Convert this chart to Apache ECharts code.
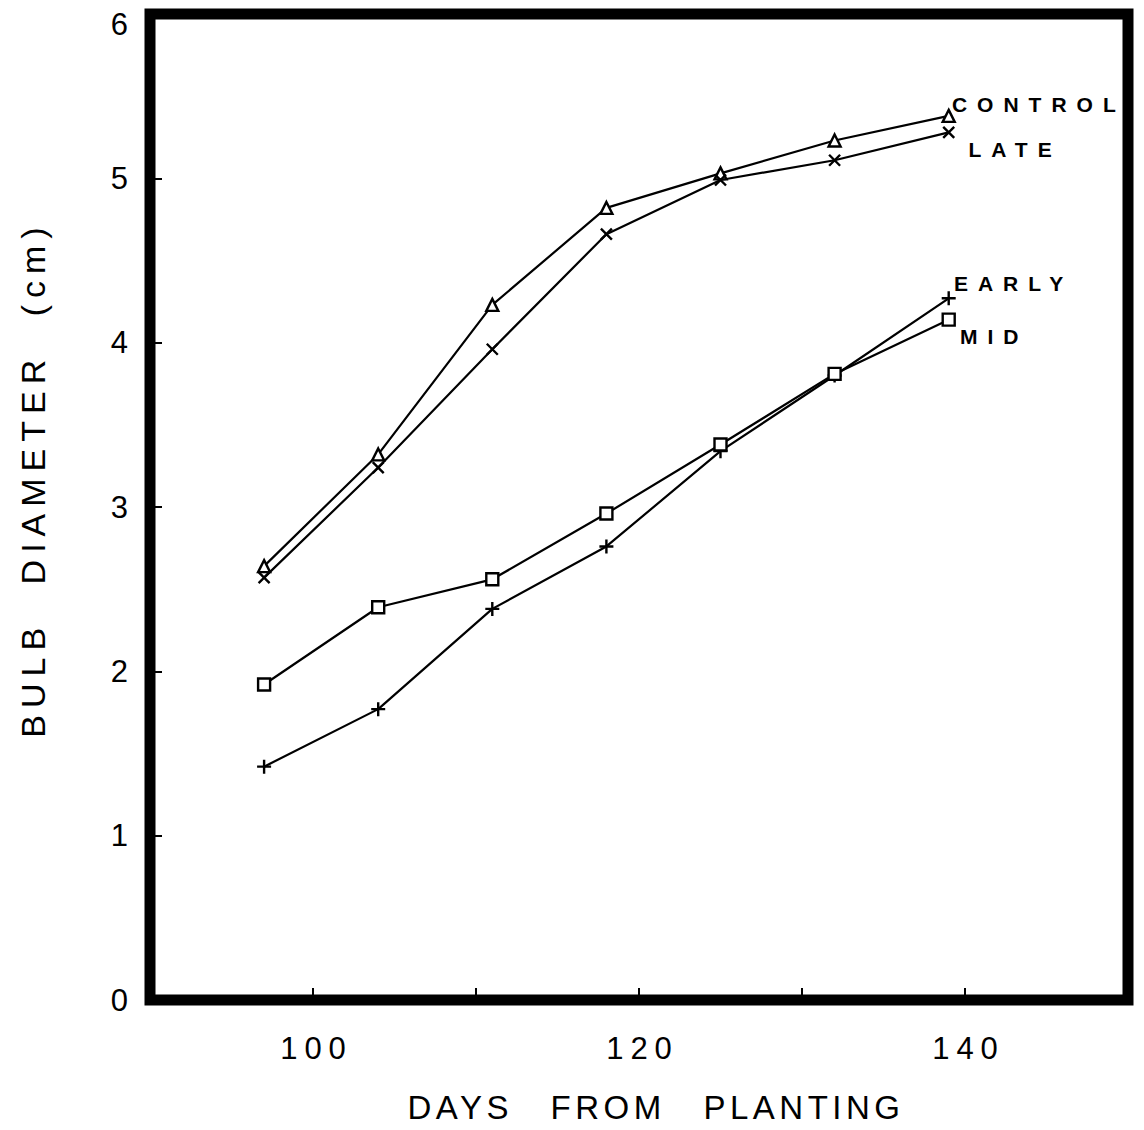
<!DOCTYPE html>
<html><head><meta charset="utf-8">
<script src="https://cdn.jsdelivr.net/npm/echarts@6/dist/echarts.min.js"></script>
<style>
html,body{margin:0;padding:0;background:#fff;}
#chart{width:1144px;height:1130px;}
#chart text[style*="31px"]{letter-spacing:7px;}
#chart text[style*="33px"]{letter-spacing:4.5px;word-spacing:24px;}
#chart text[style*="34px"]{letter-spacing:7px;word-spacing:20px;}
#chart text[style*="21px"]{letter-spacing:10px;}
</style></head><body><div id="chart"></div>
<script>
const days = [97, 104, 111, 118, 125, 132, 139];
const control = [2.64, 3.32, 4.23, 4.82, 5.03, 5.23, 5.38];
const late = [2.57, 3.24, 3.96, 4.66, 4.99, 5.11, 5.28];
const early = [1.42, 1.77, 2.38, 2.76, 3.34, 3.80, 4.27];
const mid = [1.92, 2.39, 2.56, 2.96, 3.38, 3.81, 4.14];
const xTickLabels = [100, 120, 140];
const yTickLabels = [0, 1, 2, 3, 4, 5, 6];
const seriesNames = ['CONTROL', 'LATE', 'EARLY', 'MID'];
const xName = 'DAYS FROM PLANTING';
const yName = 'BULB DIAMETER (cm)';

const FONT = 'Liberation Sans, Arial, Helvetica, sans-serif';
const symbols = ['triangle', 'path://M0,0L10,10M10,0L0,10', 'path://M0,5L10,5M5,0L5,10', 'rect'];
const symbolSizes = [12, 11, 14, 12];
const labelOffsets = [[-4, -11], [13, 17], [-3, -15], [4, 17]];
const values = [control, late, early, mid];

function buildData(vals, idx) {
  return days.map((d, i) => {
    const item = { value: [d, vals[i]] };
    if (i === days.length - 1) {
      item.label = {
        show: true, position: 'right', distance: 0,
        offset: labelOffsets[idx],
        formatter: seriesNames[idx],
        color: '#000', fontFamily: FONT, fontSize: 21, fontWeight: 'bold'
      };
    }
    return item;
  });
}

const chart = echarts.init(document.getElementById('chart'), null, { renderer: 'svg' });
chart.setOption({
  backgroundColor: '#fff',
  animation: false,
  grid: {
    left: 150, right: 16, top: 14, bottom: 130,
    show: true, borderColor: '#000', borderWidth: 11, backgroundColor: 'transparent',
    containLabel: false, outerBoundsMode: 'none'
  },
  xAxis: {
    type: 'value', min: 90, max: 150, interval: 10,
    name: xName, nameLocation: 'middle', nameGap: 91,
    nameTextStyle: { color: '#000', fontFamily: FONT, fontSize: 33, padding: [0, 0, 0, 34] },
    axisLine: { show: false },
    splitLine: { show: false },
    axisTick: { show: true, inside: true, length: 12, lineStyle: { color: '#000', width: 2 } },
    axisLabel: {
      margin: 33, color: '#000', fontFamily: FONT, fontSize: 31, padding: [0, 0, 0, 7],
      formatter: v => xTickLabels.includes(v) ? String(v) : ''
    }
  },
  yAxis: {
    type: 'value', min: 0, max: 6, interval: 1,
    name: yName, nameLocation: 'middle', nameGap: 100,
    nameTextStyle: { color: '#000', fontFamily: FONT, fontSize: 34, padding: [0, 0, 0, 56] },
    axisLine: { show: false },
    splitLine: { show: false },
    axisTick: { show: true, inside: true, length: 12, lineStyle: { color: '#000', width: 2 } },
    axisLabel: {
      margin: 15, color: '#000', fontFamily: FONT, fontSize: 31, lineHeight: 20,
      verticalAlignMaxLabel: 'top',
      formatter: v => yTickLabels.includes(v) ? String(v) : ''
    }
  },
  series: values.map((vals, idx) => ({
    name: seriesNames[idx],
    type: 'line',
    data: buildData(vals, idx),
    symbol: symbols[idx],
    symbolSize: symbolSizes[idx],
    showAllSymbol: true,
    lineStyle: { color: '#000', width: 2.2 },
    itemStyle: { color: idx === 1 || idx === 2 ? '#000' : '#fff', borderColor: '#000', borderWidth: 2.4 },
    emphasis: { disabled: true },
    z: 3
  }))
});
</script></body></html>
